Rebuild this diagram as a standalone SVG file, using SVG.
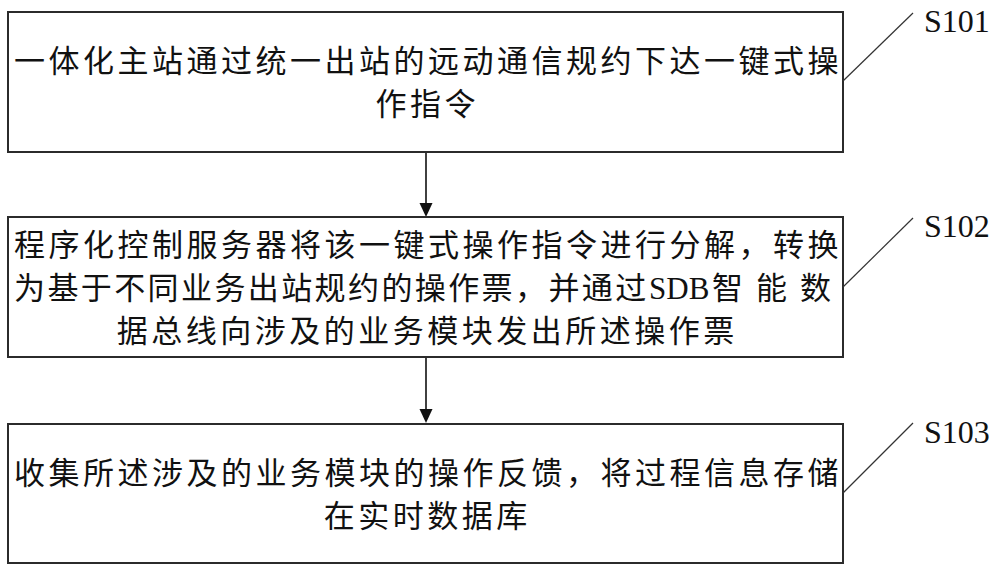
<svg xmlns="http://www.w3.org/2000/svg" width="1000" height="574" viewBox="0 0 1000 574">
  <style>
    .box { fill: #ffffff; stroke: #2b2b2b; stroke-width: 2; }
    .cn { font-family: "Liberation Serif", "Noto Sans CJK SC", serif; font-size: 31px; fill: #111111; letter-spacing: 3.5px; }
    .lat { font-family: "Liberation Serif", serif; letter-spacing: 0; }
    .lbl { font-family: "Liberation Serif", serif; font-size: 32px; fill: #111111; }
    .leader { stroke: #333333; stroke-width: 1.2; fill: none; }
    .conn { stroke: #111111; stroke-width: 1.6; fill: none; }
  </style>
  <defs>
    <marker id="arrow" markerUnits="userSpaceOnUse" markerWidth="14" markerHeight="15" refX="7" refY="14" orient="auto-start-reverse" viewBox="0 0 14 15">
      <path d="M0.5,0 L13.5,0 L7,14 Z" fill="#111111" transform="rotate(-90 7 7)" />
    </marker>
  </defs>
  <rect width="1000" height="574" fill="#ffffff" />

  <g id="connectors">
    <line class="conn" x1="426" y1="152" x2="426" y2="205" />
    <polygon points="419.5,203 432.5,203 426,217" fill="#111111" />
    <line class="conn" x1="426" y1="357" x2="426" y2="411" />
    <polygon points="419.5,409 432.5,409 426,423" fill="#111111" />
  </g>

  <g id="S101">
    <rect class="box" x="8" y="12" width="835" height="140" />
    <text class="cn" x="14" y="72">一体化主站通过统一出站的远动通信规约下达一键式操</text>
    <text class="cn" x="427.25" y="115" text-anchor="middle">作指令</text>
    <line class="leader" x1="843" y1="81" x2="913" y2="13" />
    <text class="lbl" x="924" y="32">S101</text>
  </g>

  <g id="S102">
    <rect class="box" x="8" y="217" width="835" height="140" />
    <text class="cn" x="14" y="256">程序化控制服务器将该一键式操作指令进行分解，转换</text>
    <text class="cn" x="14" y="299" style="letter-spacing:2.4px">为基于不同业务出站规约的操作票，并通过</text>
    <text class="cn lat" x="649" y="299">SDB</text>
    <text class="cn" x="712 756 800" y="299" style="letter-spacing:0">智能数</text>
    <text class="cn" x="427.25" y="342" text-anchor="middle">据总线向涉及的业务模块发出所述操作票</text>
    <line class="leader" x1="843" y1="287" x2="913" y2="218" />
    <text class="lbl" x="924" y="237">S102</text>
  </g>

  <g id="S103">
    <rect class="box" x="8" y="424" width="835" height="139" />
    <text class="cn" x="14" y="484">收集所述涉及的业务模块的操作反馈，将过程信息存储</text>
    <text class="cn" x="427.25" y="527" text-anchor="middle">在实时数据库</text>
    <line class="leader" x1="843" y1="493" x2="913" y2="423" />
    <text class="lbl" x="924" y="443">S103</text>
  </g>
</svg>
